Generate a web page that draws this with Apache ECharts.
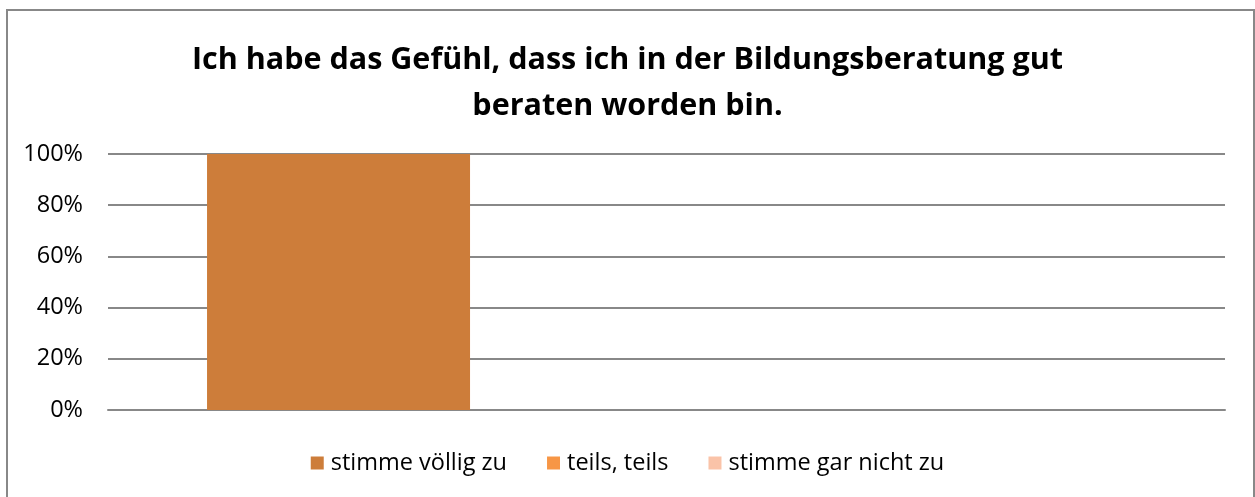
<!DOCTYPE html>
<html>
<head>
<meta charset="utf-8">
<script src="https://cdn.jsdelivr.net/npm/echarts@6/dist/echarts.min.js"></script>
<style>
html,body{margin:0;padding:0;background:#fff;}
#chart{width:1255px;height:497px;}
</style>
</head>
<body>
<div id="chart"></div>
<script>
// Daten
var categories = ['Bildungsberatung'];
var seriesNames = ['stimme völlig zu', 'teils, teils', 'stimme gar nicht zu'];
var seriesValues = [[100], [0], [0]];
var yTicks = [0, 20, 40, 60, 80, 100];
var colors = ['#CD7D3A', '#F79646', '#FAC3A8'];

var chart = echarts.init(document.getElementById('chart'));

var series = seriesNames.map(function(name, i){
	return {
		'name': name,
		'type': 'bar',
		'data': seriesValues[i],
		'barWidth': 263,
		'barGap': '24.7%',
		'itemStyle': {'color': colors[i]}
	};
});

chart.setOption({
	'animation': false,
	'textStyle': {'fontFamily': '"Open Sans", sans-serif'},
	'title': {
		'text': 'Ich habe das Gefühl, dass ich in der Bildungsberatung gut\nberaten worden bin.',
		'left': 'center',
		'top': 32,
		'textStyle': {'fontSize': 30.5, 'fontWeight': 'bold', 'color': '#000', 'lineHeight': 46}
	},
	'graphic': [{
		'type': 'rect',
		'shape': {'x': 7, 'y': 10, 'width': 1247, 'height': 500},
		'style': {'fill': 'none', 'stroke': '#888', 'lineWidth': 2}
	}],
	'legend': {
		'bottom': 17,
		'left': 'center',
		'itemWidth': 13,
		'itemHeight': 13,
		'itemGap': 40,
		'icon': 'rect',
		'textStyle': {'fontSize': 23.5, 'color': '#000', 'padding': [0, 0, 0, 2]}
	},
	'grid': {'left': 108, 'right': 30, 'top': 154, 'bottom': 87},
	'xAxis': {
		'type': 'category',
		'data': categories,
		'axisLine': {'lineStyle': {'color': '#888', 'width': 2}},
		'axisTick': {'show': false},
		'axisLabel': {'show': false}
	},
	'yAxis': {
		'type': 'value',
		'min': yTicks[0],
		'max': yTicks[yTicks.length - 1],
		'interval': yTicks[1] - yTicks[0],
		'axisLine': {'show': false},
		'axisTick': {'show': false},
		'splitLine': {'lineStyle': {'color': '#888', 'width': 2}},
		'axisLabel': {'formatter': '{value}%', 'fontSize': 23.5, 'color': '#000', 'margin': 25}
	},
	'series': series
});
</script>
</body>
</html>
